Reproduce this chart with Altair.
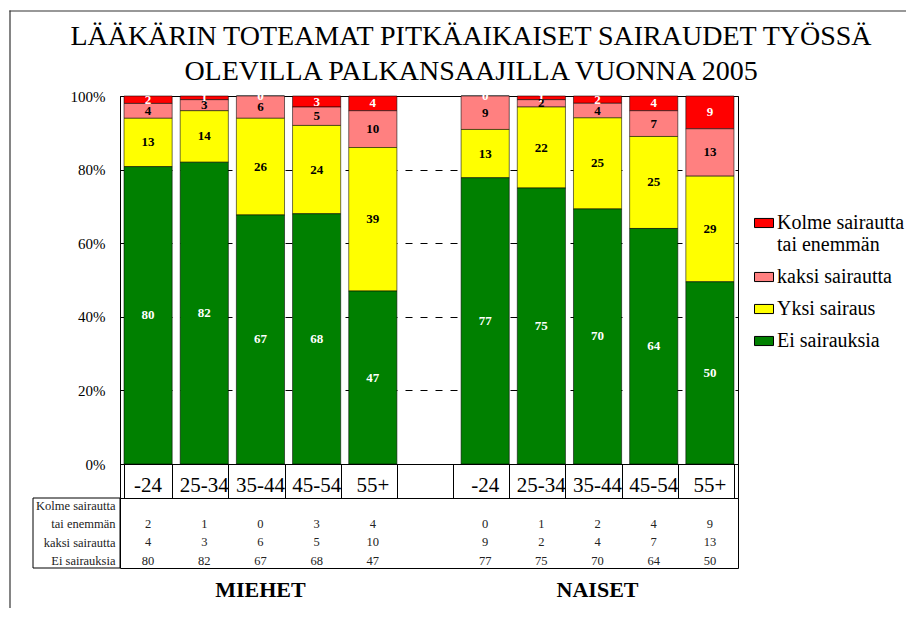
import json
import altair as alt
import pandas as pd

SERIF = "'Liberation Serif', 'Times New Roman', 'DejaVu Serif', serif"

title_lines = ["LÄÄKÄRIN TOTEAMAT PITKÄAIKAISET SAIRAUDET TYÖSSÄ",
               "OLEVILLA PALKANSAAJILLA VUONNA 2005"]
ages = ["-24", "25-34", "35-44", "45-54", "55+"]
groups = ["MIEHET", "NAISET"]
group_keys = ["M", "N"]
series = ["Kolme sairautta tai enemmän", "kaksi sairautta", "Yksi sairaus", "Ei sairauksia"]
series_colors = ["#FF0000", "#FF8080", "#FFFF00", "#008000"]
series_label_colors = ["white", "black", "black", "white"]
legend_first_lines = ["Kolme sairautta", "\u00a0tai enemmän"]

# values (percent)
men_kolme = [2, 1, 0, 3, 4]
men_kaksi = [4, 3, 6, 5, 10]
men_yksi = [13, 14, 26, 24, 39]
men_ei = [80, 82, 67, 68, 47]
women_kolme = [0, 1, 2, 4, 9]
women_kaksi = [9, 2, 4, 7, 13]
women_yksi = [13, 22, 25, 25, 29]
women_ei = [77, 75, 70, 64, 50]

# data table under the chart
table_series = ["Kolme sairautta tai enemmän", "kaksi sairautta", "Ei sairauksia"]
table_row_lines = [["Kolme sairautta", "tai enemmän"], ["kaksi sairautta"], ["Ei sairauksia"]]

group_values = {
    "M": [men_kolme, men_kaksi, men_yksi, men_ei],
    "N": [women_kolme, women_kaksi, women_yksi, women_ei],
}

slot_keys = [f"M|{a}" for a in ages] + ["gap"] + [f"N|{a}" for a in ages]
slot_ages = ages + [""] + ages

bar_rows = []
for gk in group_keys:
    for ai, age in enumerate(ages):
        for si, s in enumerate(series):
            bar_rows.append({
                "slot": f"{gk}|{age}", "age": age, "series": s,
                "value": group_values[gk][si][ai],
                "ord": len(series) - 1 - si,
                "lc": series_label_colors[si],
            })
bars_df = pd.DataFrame(bar_rows)

header_df = pd.DataFrame({"slot": slot_keys, "age": slot_ages})

row_domain = [line for lines in table_row_lines for line in lines]
table_rows = []
for ti, ts in enumerate(table_series):
    si = series.index(ts)
    for gk in group_keys:
        for ai, age in enumerate(ages):
            table_rows.append({"slot": f"{gk}|{age}", "row": table_row_lines[ti][-1],
                               "value": group_values[gk][si][ai]})
table_df = pd.DataFrame(table_rows)

group_df = pd.DataFrame({"group": groups, "slot": [f"{gk}|{ages[2]}" for gk in group_keys]})

W = 618
H = 368
xscale = alt.Scale(domain=slot_keys, paddingInner=0.143, paddingOuter=0.0715)
yscale = alt.Scale(domain=[0, 1], nice=False)

y_axis = alt.Axis(
    values=[0, 0.2, 0.4, 0.6, 0.8, 1.0], format=".0%", grid=True,
    gridDash=[7, 8], gridColor="black", gridOpacity=1, gridWidth=1,
    ticks=False, domain=True, domainColor="black", labelFont=SERIF, labelFontSize=15,
    labelPadding=15, labelColor="black", title=None)

stacked = alt.Chart(bars_df).transform_stack(
    stack="value", groupby=["slot"], as_=["v0", "v1"], offset="normalize",
    sort=[alt.SortField("ord", order="ascending")],
).transform_calculate(mid="(datum.v0 + datum.v1) / 2")

label_expr = (f"datum.label == {json.dumps(series[0])} ? "
              f"{json.dumps(legend_first_lines)} : datum.label")

bars = stacked.mark_bar(stroke="#000000", strokeWidth=0.8, strokeOpacity=0.7).encode(
    x=alt.X("slot:N", scale=xscale, axis=None),
    y=alt.Y("v0:Q", scale=yscale, axis=y_axis),
    y2="v1:Q",
    color=alt.Color("series:N", scale=alt.Scale(domain=series, range=series_colors),
                    legend=alt.Legend(
                        title=None, orient="none", legendX=634, legendY=117,
                        padding=0, labelFont=SERIF, labelFontSize=20, labelColor="black",
                        labelLimit=300, labelOffset=3, labelExpr=label_expr,
                        symbolType="M-1,-0.48H1V0.48H-1Z", symbolSize=361,
                        symbolStrokeColor="black", symbolStrokeWidth=1,
                        rowPadding=12)),
)

labels = stacked.mark_text(font=SERIF, fontWeight="bold", fontSize=13, baseline="middle").encode(
    x=alt.X("slot:N", scale=xscale, axis=None),
    y=alt.Y("mid:Q", scale=yscale, axis=y_axis),
    text="value:Q",
    color=alt.Color("lc:N", scale=None, legend=None),
)

one = pd.DataFrame({"k": [0]})
title = alt.Chart(one).mark_text(
    text=title_lines, font=SERIF, fontSize=28, lineHeight=35, align="center",
    baseline="alphabetic", color="black").encode(x=alt.value(351), y=alt.value(-51))
# outer chart-area frame (left and top edges)
frame_left = alt.Chart(one).mark_rect(color="#333333").encode(
    x=alt.value(-110.6), x2=alt.value(-109.4), y=alt.value(-85.6), y2=alt.value(512))
frame_top = alt.Chart(one).mark_rect(color="#333333").encode(
    x=alt.value(-110.6), x2=alt.value(786), y=alt.value(-85.6), y2=alt.value(-84.4))

bar_chart = alt.layer(frame_left, frame_top, title, bars, labels).properties(width=W, height=H)

grid_axis = alt.Axis(grid=True, tickBand="extent", gridColor="black", gridWidth=1,
                     gridOpacity=1, labels=False, ticks=False, domain=False, title=None)

header = alt.Chart(header_df).mark_text(font=SERIF, fontSize=21, baseline="middle",
                                        color="black").encode(
    x=alt.X("slot:N", scale=xscale, axis=grid_axis),
    y=alt.value(22),
    text="age:N",
).properties(width=W, height=34)

box = alt.Chart(one).mark_rect(fill="transparent", stroke="black", strokeWidth=1).encode(
    x=alt.value(-87), x2=alt.value(0), y=alt.value(0), y2=alt.value(70))
tbl_text = alt.Chart(table_df).mark_text(font=SERIF, fontSize=12.5, baseline="middle",
                                         color="#222222").encode(
    x=alt.X("slot:N", scale=xscale, axis=grid_axis),
    y=alt.Y("row:N", scale=alt.Scale(domain=row_domain, padding=0.4), axis=alt.Axis(
        labelFont=SERIF, labelFontSize=12.5, labelAlign="right", labelPadding=5, ticks=False,
        domain=False, grid=False, title=None, labelColor="#222222")),
    text="value:Q",
)
grp = alt.Chart(group_df).mark_text(font=SERIF, fontSize=22, fontWeight="bold",
                                    baseline="middle", color="black").encode(
    x=alt.X("slot:N", scale=xscale, axis=None),
    y=alt.value(92),
    text="group:N",
)
table = alt.layer(box, tbl_text, grp).properties(width=W, height=70)

chart = alt.vconcat(bar_chart, header, table, spacing=0, bounds="flush").properties(
    padding={"left": 0, "top": 1, "right": 0, "bottom": 0}
).configure(font=SERIF).configure_view(stroke="black", strokeWidth=1)

chart.save("out.html", embed_options={"renderer": "svg", "actions": False})
